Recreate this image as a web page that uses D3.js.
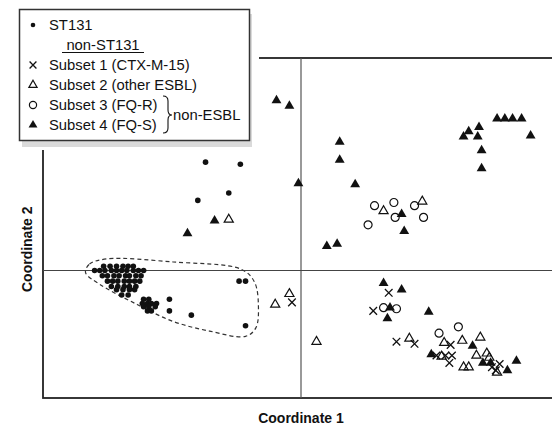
<!DOCTYPE html>
<html>
<head>
<meta charset="utf-8">
<script src="https://cdn.jsdelivr.net/npm/d3@7"></script>
<style>
    html, body { margin: 0; padding: 0; background: #fff; }
    #chart { width: 552px; height: 427px; }
    text { font-family: "Liberation Sans", Arial, Helvetica, sans-serif; fill: #111; }
</style>
</head>
<body>
<div id="chart"></div>
<script>
// coordinates (coordinate 1, coordinate 2)
const st131 = [
    [-0.74, 1.02], [-0.47, 1.00], [-0.56, 0.73], [-0.80, 0.66],
    [-1.53, 0.04], [-1.48, 0.04], [-1.43, 0.04], [-1.38, 0.04], [-1.34, 0.04], [-1.30, 0.04],
    [-1.60, 0.00], [-1.56, 0.00], [-1.52, 0.00], [-1.47, 0.00], [-1.43, 0.00],
    [-1.39, 0.00], [-1.35, 0.00], [-1.30, 0.00], [-1.26, 0.00], [-1.22, 0.00],
    [-1.54, -0.05], [-1.50, -0.05], [-1.45, -0.05], [-1.41, -0.05],
    [-1.36, -0.05], [-1.33, -0.05], [-1.28, -0.05], [-1.24, -0.05],
    [-1.50, -0.10], [-1.46, -0.10], [-1.42, -0.10], [-1.37, -0.10], [-1.33, -0.10], [-1.29, -0.10], [-1.25, -0.10],
    [-1.47, -0.15], [-1.42, -0.15], [-1.37, -0.15], [-1.33, -0.15], [-1.28, -0.15],
    [-1.43, -0.18], [-1.38, -0.18], [-1.33, -0.18], [-1.29, -0.18],
    [-1.39, -0.23], [-1.34, -0.23],
    [-1.22, -0.27], [-1.18, -0.27],
    [-1.23, -0.31], [-1.19, -0.31], [-1.16, -0.31], [-1.12, -0.31],
    [-1.22, -0.34], [-1.18, -0.34], [-1.13, -0.34],
    [-1.19, -0.38], [-1.16, -0.38],
    [-1.02, -0.27], [-1.02, -0.38], [-0.85, -0.42],
    [-0.48, -0.10], [-0.43, -0.10], [-0.43, -0.52]
];

// subset 1 (CTX-M-15)
const subset1 = [
    [-0.07, -0.30], [0.68, -0.21], [0.56, -0.38], [0.74, -0.67], [0.88, -0.69],
    [1.16, -0.70], [1.05, -0.80], [1.12, -0.80], [1.17, -0.80], [1.15, -0.87],
    [1.54, -0.88], [1.51, -0.94], [1.48, -0.91]
];

// subset 2 (other ESBL)
const subset2 = [
    [-0.56, 0.48], [0.64, 0.56], [0.94, 0.65],
    [-0.20, -0.32], [-0.09, -0.22], [0.12, -0.67],
    [0.84, -0.64], [1.11, -0.68], [1.25, -0.66], [1.39, -0.63],
    [1.09, -0.81], [1.26, -0.91], [1.30, -0.91], [1.36, -0.80],
    [1.44, -0.78], [1.46, -0.82], [1.52, -0.96]
];

// subset 3 (FQ-R)
const subset3 = [
    [0.57, 0.61], [0.72, 0.64], [0.88, 0.61], [0.73, 0.50], [0.52, 0.43], [0.95, 0.50],
    [0.64, -0.35], [0.74, -0.36], [1.07, -0.59], [1.22, -0.53]
];

// subset 4 (FQ-S)
const subset4 = [
    [-0.88, 0.35], [-0.67, 0.47], [-0.19, 1.60], [-0.09, 1.55], [-0.02, 0.82],
    [0.30, 1.21], [0.30, 1.04], [0.42, 0.81], [0.20, 0.23], [0.28, 0.25],
    [0.80, 0.37], [0.78, 0.53],
    [1.52, 1.43], [1.58, 1.43], [1.64, 1.43], [1.71, 1.43],
    [1.38, 1.35], [1.30, 1.31], [1.26, 1.26], [1.37, 1.26], [1.78, 1.27],
    [1.40, 1.13], [1.40, 0.96],
    [0.64, -0.12], [0.78, -0.18], [0.69, -0.35], [0.67, -0.45], [0.99, -0.39],
    [1.33, -0.71], [1.01, -0.79], [1.41, -0.87], [1.47, -0.87], [1.60, -0.94], [1.67, -0.85]
];

// dashed outline round the ST131 cluster
const st131Outline = [
    [-1.67, -0.02], [-1.64, 0.06], [-1.50, 0.11], [-0.99, 0.08], [-0.46, 0.01],
    [-0.36, -0.11], [-0.33, -0.34], [-0.35, -0.54], [-0.43, -0.62],
    [-0.71, -0.57], [-0.99, -0.48], [-1.27, -0.32], [-1.56, -0.13]
];

const legendLabels = ["ST131", "Subset 1 (CTX-M-15)", "Subset 2 (other ESBL)", "Subset 3 (FQ-R)", "Subset 4 (FQ-S)"];
const legendKinds = ["dot", "cross", "triOpen", "circleOpen", "triFilled"];
const axisTitles = ["Coordinate 1", "Coordinate 2"];

class MdsPlot {
    constructor(containerId) {
        this.container = document.getElementById(containerId);
        this.width = 552;
        this.height = 427;
        this.svg = null;
        this.x = null;
        this.y = null;
    }

    /**
     * Build scales and draw everything
     */
    render() {
        this.svg = d3.select(this.container)
            .append("svg")
            .attr("width", this.width)
            .attr("height", this.height);

        this.x = d3.scaleLinear().domain([-2, 2]).range([43, 559]);
        this.y = d3.scaleLinear().domain([-1.2, 2]).range([398, 58]);

        this.drawFrame();
        this.drawOutline();
        this.drawPoints(st131, "dot");
        this.drawPoints(subset2, "triOpen");
        this.drawPoints(subset3, "circleOpen");
        this.drawPoints(subset1, "cross");
        this.drawPoints(subset4, "triFilled");
        this.drawTitles();
        this.drawLegend();
    }

    drawFrame() {
        const x = this.x, y = this.y;
        const g = this.svg.append("g");
        g.append("rect")
            .attr("x", x(-2)).attr("y", y(2))
            .attr("width", x(2) - x(-2)).attr("height", y(-1.2) - y(2))
            .attr("fill", "none").attr("stroke", "#222").attr("stroke-width", 1.8);
        // zero lines
        g.append("line")
            .attr("x1", x(0)).attr("x2", x(0)).attr("y1", y(2)).attr("y2", y(-1.2))
            .attr("stroke", "#555").attr("stroke-width", 1.2);
        g.append("line")
            .attr("x1", x(-2)).attr("x2", x(2)).attr("y1", y(0)).attr("y2", y(0))
            .attr("stroke", "#444").attr("stroke-width", 1.2);
    }

    drawOutline() {
        const line = d3.line()
            .x(d => this.x(d[0]))
            .y(d => this.y(d[1]))
            .curve(d3.curveCatmullRomClosed.alpha(0.5));
        this.svg.append("path")
            .attr("d", line(st131Outline))
            .attr("fill", "none")
            .attr("stroke", "#333")
            .attr("stroke-width", 1.2)
            .attr("stroke-dasharray", "4,3");
    }

    /**
     * Append one marker of a given kind to a selection
     */
    addMarker(sel, kind, small) {
        const k = small ? 0.9 : 1;
        if (kind === "dot") {
            sel.append("circle").attr("r", small ? 2.3 : 2.8).attr("fill", "#111");
        } else if (kind === "circleOpen") {
            sel.append("circle").attr("r", 4 * k)
                .attr("fill", "none").attr("stroke", "#111").attr("stroke-width", 1.2);
        } else if (kind === "cross") {
            const r = 3.8 * k;
            sel.append("path")
                .attr("d", `M${-r},${-r}L${r},${r}M${-r},${r}L${r},${-r}`)
                .attr("stroke", "#111").attr("stroke-width", 1.3);
        } else if (kind === "triOpen") {
            sel.append("path")
                .attr("d", d3.symbol(d3.symbolTriangle, 36 * k * k)())
                .attr("fill", "none").attr("stroke", "#111").attr("stroke-width", 1.2);
        } else {
            sel.append("path")
                .attr("d", d3.symbol(d3.symbolTriangle, 42 * k * k)())
                .attr("fill", "#111");
        }
    }

    drawPoints(data, kind) {
        const self = this;
        this.svg.append("g")
            .selectAll("g")
            .data(data)
            .join("g")
            .attr("transform", d => `translate(${this.x(d[0])},${this.y(d[1])})`)
            .each(function () { self.addMarker(d3.select(this), kind, false); });
    }

    drawTitles() {
        this.svg.append("text")
            .attr("x", this.x(0)).attr("y", 423)
            .attr("text-anchor", "middle")
            .style("font-weight", "bold").style("font-size", "14px")
            .text(axisTitles[0]);
        this.svg.append("text")
            .attr("transform", `translate(32,${this.y(0.2)}) rotate(-90)`)
            .attr("text-anchor", "middle")
            .style("font-weight", "bold").style("font-size", "14px")
            .text(axisTitles[1]);
    }

    drawLegend() {
        const g = this.svg.append("g");
        // white cover over the frame corner, then shadow and box
        g.append("rect").attr("x", 10).attr("y", 0).attr("width", 249).attr("height", 150).attr("fill", "#fff");
        g.append("rect").attr("x", 22).attr("y", 14).attr("width", 230).attr("height", 133).attr("fill", "#dadada");
        g.append("rect").attr("x", 19.5).attr("y", 9.5).attr("width", 230).attr("height", 131)
            .attr("fill", "#fff").attr("stroke", "#333").attr("stroke-width", 1.5);

        const rowY = [30, 70, 90, 110, 130];
        const self = this;
        const rows = g.selectAll("g.row")
            .data(legendLabels)
            .join("g")
            .attr("class", "row")
            .attr("transform", (d, i) => `translate(0,${rowY[i]})`);
        rows.append("g")
            .attr("transform", "translate(33,-5)")
            .each(function (d, i) { self.addMarker(d3.select(this), legendKinds[i], true); });
        rows.append("text")
            .attr("x", 49)
            .style("font-size", "14.8px")
            .text(d => d);

        g.append("text")
            .attr("x", 103).attr("y", 49.5)
            .attr("text-anchor", "middle")
            .style("font-size", "14.8px")
            .text("non-ST131");
        g.append("line")
            .attr("x1", 62).attr("x2", 144).attr("y1", 52.5).attr("y2", 52.5)
            .attr("stroke", "#111").attr("stroke-width", 1);

        // brace grouping subsets 3 and 4
        g.append("path")
            .attr("d", "M163,96 Q168,96 168,101 L168,110 Q168,115 172,115 Q168,115 168,120 L168,128 Q168,133 163,133")
            .attr("fill", "none").attr("stroke", "#111").attr("stroke-width", 1.1);
        g.append("text")
            .attr("x", 173).attr("y", 120)
            .style("font-size", "14.8px")
            .text("non-ESBL");
    }
}

const plot = new MdsPlot("chart");
plot.render();
</script>
</body>
</html>
